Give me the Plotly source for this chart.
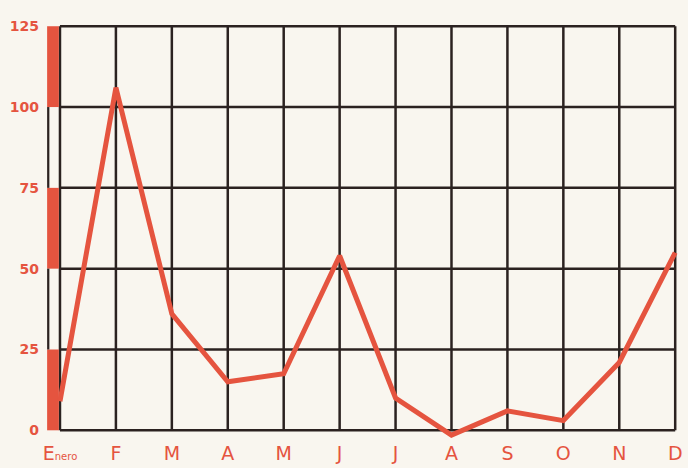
import plotly.graph_objects as go

months = ["E<span style='font-size:10px'>nero</span>", "F", "M", "A", "M", "J", "J", "A", "S", "O", "N", "D"]
values = [9, 106, 36, 15, 17.5, 54, 10, -1.5, 6, 3, 21, 55]
yticks = [0, 25, 50, 75, 100, 125]
scale_red = [(0, 25), (50, 75), (100, 125)]
scale_dark = [(25, 50), (75, 100)]

RED = "#e5543f"
INK = "#2b2220"
BG = "#f9f6ef"

idx = list(range(len(months)))

fig = go.Figure()
fig.add_trace(go.Scatter(x=idx, y=values, mode="lines",
                         line=dict(color=RED, width=5), hoverinfo="skip"))

shapes = []
# grid
for i in idx:
    shapes.append(dict(type="line", xref="x", yref="y", x0=i, x1=i, y0=0, y1=yticks[-1],
                       line=dict(color=INK, width=2.5), layer="below"))
for v in yticks:
    shapes.append(dict(type="line", xref="x", yref="y", x0=0, x1=idx[-1], y0=v, y1=v,
                       line=dict(color=INK, width=2.5), layer="below"))
# scale bar
for a, b in scale_red:
    shapes.append(dict(type="rect", xref="x", yref="y", x0=-0.23, x1=-0.02, y0=a, y1=b,
                       fillcolor=RED, line=dict(width=0), layer="below"))
for a, b in scale_dark:
    shapes.append(dict(type="rect", xref="x", yref="y", x0=-0.23, x1=-0.19, y0=a, y1=b,
                       fillcolor=INK, line=dict(width=0), layer="below"))

fig.update_layout(
    width=688, height=468,
    margin=dict(l=46, r=10, t=23, b=28),
    paper_bgcolor=BG, plot_bgcolor=BG,
    showlegend=False,
    shapes=shapes,
    font=dict(family="DejaVu Sans", color=RED, size=16),
    xaxis=dict(range=[-0.25, 11.05], tickmode="array", tickvals=idx, ticktext=months,
               showgrid=False, zeroline=False, showline=False, ticks="",
               automargin=False, tickfont=dict(size=19, color=RED)),
    yaxis=dict(range=[-3, 126], tickmode="array", tickvals=yticks,
               ticktext=[str(v) for v in yticks],
               showgrid=False, zeroline=False, showline=False, ticks="",
               automargin=False, ticklabelstandoff=6,
               tickfont=dict(size=14, color=RED, weight="bold")),
)

fig.write_html("out.html", config={"displayModeBar": False},
               post_script="document.body.style.margin='0';document.body.style.background='%s';" % BG)
